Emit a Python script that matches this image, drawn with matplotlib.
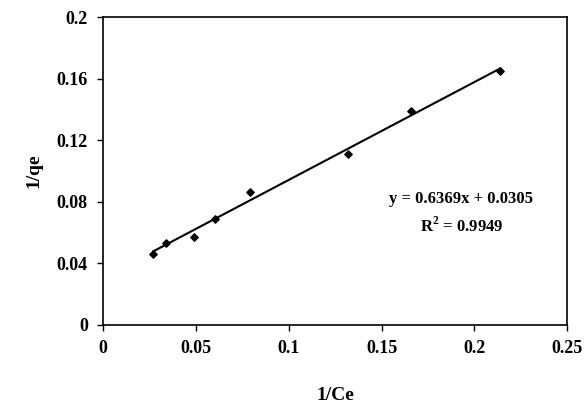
import numpy as np
import matplotlib.pyplot as plt

plt.rcParams['font.family'] = 'Liberation Serif'
plt.rcParams['font.weight'] = 'bold'
plt.rcParams['mathtext.fontset'] = 'custom'
plt.rcParams['mathtext.rm'] = 'Liberation Serif:bold'
plt.rcParams['mathtext.bf'] = 'Liberation Serif:bold'

inv_ce = [0.027, 0.034, 0.049, 0.060, 0.079, 0.132, 0.166, 0.214]
inv_qe = [0.046, 0.053, 0.057, 0.069, 0.086, 0.111, 0.139, 0.165]
slope, intercept = 0.6369, 0.0305

fig, ax = plt.subplots(figsize=(5.86, 4.12), dpi=100)
fig.subplots_adjust(left=0.176, right=0.968, top=0.958, bottom=0.212)

ax.scatter(inv_ce, inv_qe, marker='D', s=14, color='black', zorder=3)
xl = np.array([min(inv_ce), max(inv_ce)])
ax.plot(xl, slope * xl + intercept, color='black', lw=1.5)

ax.set_xlim(0, 0.25)
ax.set_ylim(0, 0.2)
ax.set_xticks([0, 0.05, 0.1, 0.15, 0.2, 0.25])
ax.set_xticklabels(['0', '0.05', '0.1', '0.15', '0.2', '0.25'])
ax.set_yticks([0, 0.04, 0.08, 0.12, 0.16, 0.2])
ax.set_yticklabels(['0', '0.04', '0.08', '0.12', '0.16', '0.2'])
ax.tick_params(labelsize=13, direction='out', length=4, width=1, pad=7)
for s in ax.spines.values():
    s.set_linewidth(1.2)

ax.set_xlabel('1/Ce', fontsize=14, fontweight='bold', labelpad=22)
ax.set_ylabel('1/qe', fontsize=14, fontweight='bold', labelpad=10)

ax.text(0.193, 0.082, 'y = 0.6369x + 0.0305', fontsize=12, ha='center', va='center')
ax.text(0.193, 0.064, 'R$^{2}$ = 0.9949', fontsize=12, ha='center', va='center')

fig.savefig('out.png')
